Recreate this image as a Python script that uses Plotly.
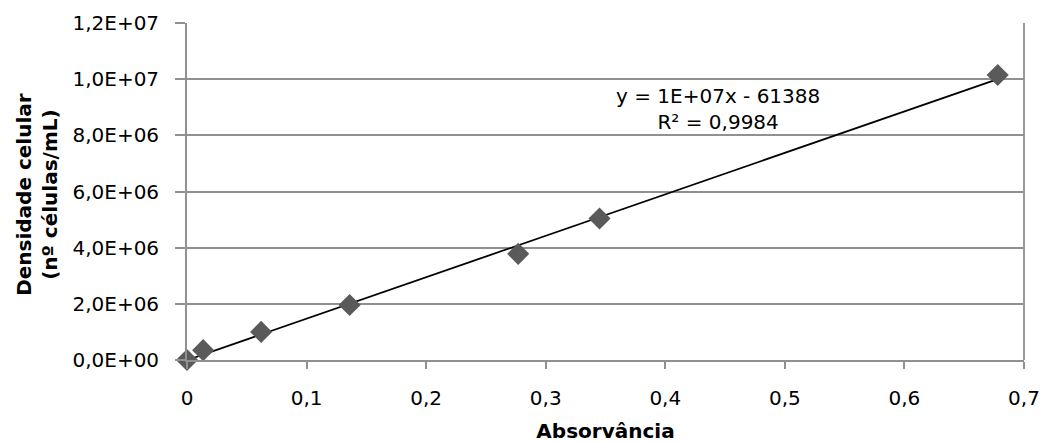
import numpy as np
import plotly.graph_objects as go

# Data
absorbance = [0.0, 0.0135, 0.062, 0.136, 0.277, 0.345, 0.678]
density = [0.0, 3.5e5, 1.0e6, 1.96e6, 3.78e6, 5.04e6, 1.015e7]

x_tick_vals = [0, 0.1, 0.2, 0.3, 0.4, 0.5, 0.6, 0.7]
x_tick_text = ["0", "0,1", "0,2", "0,3", "0,4", "0,5", "0,6", "0,7"]
y_tick_vals = [0, 2e6, 4e6, 6e6, 8e6, 1e7, 1.2e7]
y_tick_text = ["0,0E+00", "2,0E+06", "4,0E+06", "6,0E+06", "8,0E+06", "1,0E+07", "1,2E+07"]

equation_text = "y = 1E+07x - 61388<br>R² = 0,9984"

# Linear trendline fitted on the data
slope, intercept = np.polyfit(absorbance, density, 1)
trend_x = [min(absorbance), max(absorbance)]
trend_y = [slope * v + intercept for v in trend_x]

fig = go.Figure()
fig.add_trace(go.Scatter(
    x=trend_x, y=trend_y, mode="lines",
    line=dict(color="black", width=1.8), showlegend=False, hoverinfo="skip"))
fig.add_trace(go.Scatter(
    x=absorbance, y=density, mode="markers",
    marker=dict(symbol="diamond", size=17, color="#5a5a5a", line=dict(width=0)),
    showlegend=False, cliponaxis=False))

tick_font = dict(family="DejaVu Sans", size=20, color="black")
grid_col = "#909090"

fig.update_layout(
    width=1046, height=443,
    margin=dict(l=187, r=22, t=23, b=83),
    paper_bgcolor="white", plot_bgcolor="white",
    xaxis=dict(
        range=[0, 0.7], tickvals=x_tick_vals, ticktext=x_tick_text,
        tickfont=tick_font, showgrid=False, zeroline=False, automargin=False,
        showline=True, linecolor=grid_col, linewidth=1.8,
        ticks="outside", ticklen=7, tickcolor=grid_col, tickwidth=1.8,
        ticklabelstandoff=12,
        title=dict(text="<b>Absorvância</b>",
                   font=dict(family="DejaVu Sans", size=20, color="black"),
                   standoff=17),
    ),
    yaxis=dict(
        range=[0, 1.2e7], tickvals=y_tick_vals, ticktext=y_tick_text,
        tickfont=tick_font, showgrid=True, gridcolor=grid_col, gridwidth=1.8,
        zeroline=False, showline=True, linecolor=grid_col, linewidth=1.8,
        automargin=False,
        ticks="outside", ticklen=10, tickcolor=grid_col, tickwidth=1.8,
        ticklabelstandoff=12,
    ),
    shapes=[dict(type="line", xref="paper", yref="paper", x0=1, x1=1, y0=0, y1=1,
                 line=dict(color=grid_col, width=1.8))],
    annotations=[
        dict(text="<b>Densidade celular<br>(nº células/mL)</b>",
             xref="paper", yref="paper", x=-(187 - 37) / 837, y=0.49,
             xanchor="center", yanchor="middle", textangle=-90, showarrow=False,
             font=dict(family="DejaVu Sans", size=20, color="black")),
        dict(text=equation_text, xref="x", yref="y", x=0.444, y=8.95e6,
             xanchor="center", yanchor="middle", align="center", showarrow=False,
             font=dict(family="DejaVu Sans", size=20, color="black")),
    ],
)

fig.write_html("out.html")
